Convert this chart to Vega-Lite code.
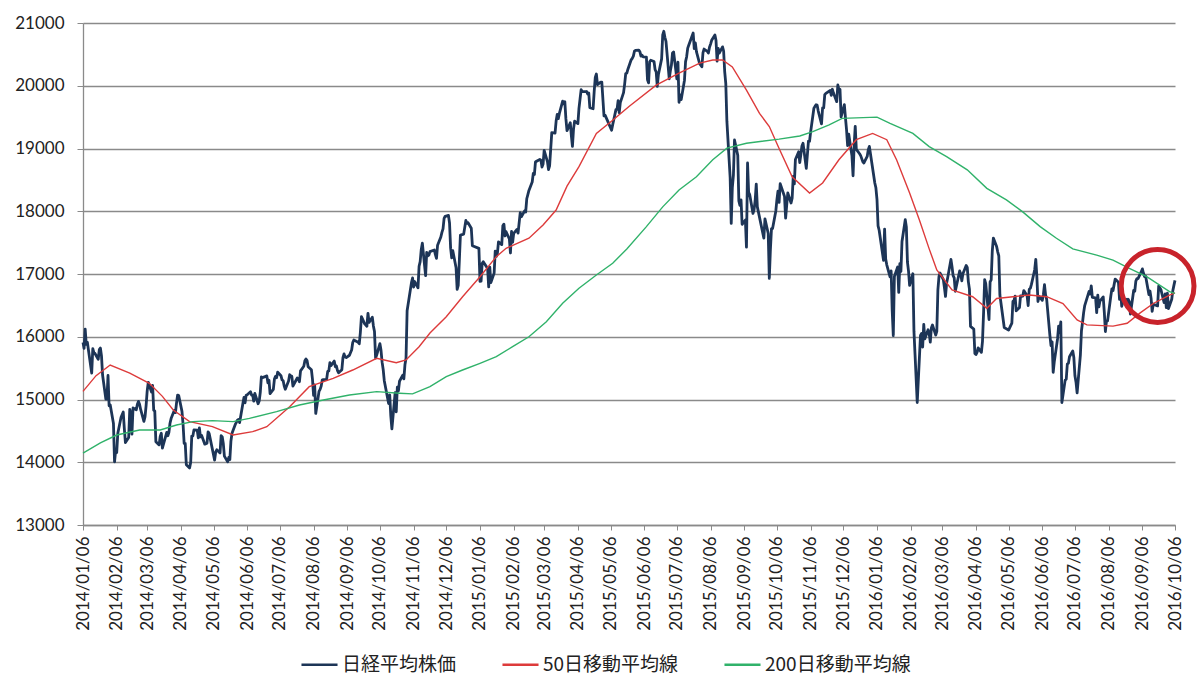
{
"$schema": "https://vega.github.io/schema/vega-lite/v6.json",
"autosize": "none",
"width": 1092,
"height": 502,
"padding": {"left": 83, "top": 23, "right": 25, "bottom": 174},
"background": "white",
"config": {"view": {"stroke": null}},
"datasets": {
"price": [
{"d":"2014-01-06","v":15908},{"d":"2014-01-07","v":15814},{"d":"2014-01-08","v":16121},{"d":"2014-01-09","v":15880},{"d":"2014-01-10","v":15912},{"d":"2014-01-14","v":15422},{"d":"2014-01-15","v":15809},{"d":"2014-01-16","v":15747},{"d":"2014-01-17","v":15734},{"d":"2014-01-20","v":15641},{"d":"2014-01-21","v":15795},{"d":"2014-01-22","v":15820},{"d":"2014-01-23","v":15695},{"d":"2014-01-24","v":15391},{"d":"2014-01-27","v":15006},{"d":"2014-01-28","v":15005},{"d":"2014-01-29","v":15383},{"d":"2014-01-30","v":14900},{"d":"2014-01-31","v":14915},
{"d":"2014-02-03","v":14619},{"d":"2014-02-04","v":14008},{"d":"2014-02-05","v":14180},{"d":"2014-02-06","v":14155},{"d":"2014-02-07","v":14462},{"d":"2014-02-10","v":14718},{"d":"2014-02-12","v":14800},{"d":"2014-02-13","v":14535},{"d":"2014-02-14","v":14313},{"d":"2014-02-17","v":14393},{"d":"2014-02-18","v":14843},{"d":"2014-02-19","v":14766},{"d":"2014-02-20","v":14449},{"d":"2014-02-21","v":14865},{"d":"2014-02-24","v":14837},{"d":"2014-02-25","v":14923},{"d":"2014-02-26","v":14970},{"d":"2014-02-27","v":14923},{"d":"2014-02-28","v":14841},
{"d":"2014-03-03","v":14652},{"d":"2014-03-04","v":14721},{"d":"2014-03-05","v":14897},{"d":"2014-03-06","v":15134},{"d":"2014-03-07","v":15274},{"d":"2014-03-10","v":15120},{"d":"2014-03-11","v":15224},{"d":"2014-03-12","v":14830},{"d":"2014-03-13","v":14815},{"d":"2014-03-14","v":14327},{"d":"2014-03-17","v":14277},{"d":"2014-03-18","v":14411},{"d":"2014-03-19","v":14462},{"d":"2014-03-20","v":14224},{"d":"2014-03-24","v":14475},{"d":"2014-03-25","v":14423},{"d":"2014-03-26","v":14477},{"d":"2014-03-27","v":14622},{"d":"2014-03-28","v":14696},{"d":"2014-03-31","v":14827},
{"d":"2014-04-01","v":14791},{"d":"2014-04-02","v":14946},{"d":"2014-04-03","v":15071},{"d":"2014-04-04","v":15063},{"d":"2014-04-07","v":14811},{"d":"2014-04-08","v":14606},{"d":"2014-04-09","v":14300},{"d":"2014-04-10","v":14299},{"d":"2014-04-11","v":13960},{"d":"2014-04-14","v":13910},{"d":"2014-04-15","v":13996},{"d":"2014-04-16","v":14417},{"d":"2014-04-17","v":14417},{"d":"2014-04-18","v":14516},{"d":"2014-04-21","v":14512},{"d":"2014-04-22","v":14388},{"d":"2014-04-23","v":14546},{"d":"2014-04-24","v":14404},{"d":"2014-04-25","v":14429},{"d":"2014-04-28","v":14288},{"d":"2014-04-30","v":14304},
{"d":"2014-05-01","v":14485},{"d":"2014-05-02","v":14457},{"d":"2014-05-07","v":14034},{"d":"2014-05-08","v":14163},{"d":"2014-05-09","v":14199},{"d":"2014-05-12","v":14149},{"d":"2014-05-13","v":14425},{"d":"2014-05-14","v":14405},{"d":"2014-05-15","v":14298},{"d":"2014-05-16","v":14097},{"d":"2014-05-19","v":14006},{"d":"2014-05-20","v":14075},{"d":"2014-05-21","v":14042},{"d":"2014-05-22","v":14337},{"d":"2014-05-23","v":14462},{"d":"2014-05-26","v":14602},{"d":"2014-05-27","v":14636},{"d":"2014-05-28","v":14670},{"d":"2014-05-29","v":14681},{"d":"2014-05-30","v":14632},
{"d":"2014-06-02","v":14935},{"d":"2014-06-03","v":15034},{"d":"2014-06-04","v":14948},{"d":"2014-06-05","v":15069},{"d":"2014-06-06","v":15077},{"d":"2014-06-09","v":15124},{"d":"2014-06-10","v":15069},{"d":"2014-06-11","v":15068},{"d":"2014-06-12","v":14973},{"d":"2014-06-13","v":15097},{"d":"2014-06-16","v":14933},{"d":"2014-06-17","v":14975},{"d":"2014-06-18","v":15115},{"d":"2014-06-19","v":15361},{"d":"2014-06-20","v":15349},{"d":"2014-06-23","v":15369},{"d":"2014-06-24","v":15376},{"d":"2014-06-25","v":15266},{"d":"2014-06-26","v":15308},{"d":"2014-06-27","v":15095},{"d":"2014-06-30","v":15162},
{"d":"2014-07-01","v":15326},{"d":"2014-07-02","v":15369},{"d":"2014-07-03","v":15348},{"d":"2014-07-04","v":15437},{"d":"2014-07-07","v":15379},{"d":"2014-07-08","v":15314},{"d":"2014-07-09","v":15302},{"d":"2014-07-10","v":15216},{"d":"2014-07-11","v":15164},{"d":"2014-07-14","v":15296},{"d":"2014-07-15","v":15395},{"d":"2014-07-16","v":15379},{"d":"2014-07-17","v":15370},{"d":"2014-07-18","v":15215},{"d":"2014-07-22","v":15343},{"d":"2014-07-23","v":15328},{"d":"2014-07-24","v":15284},{"d":"2014-07-25","v":15457},{"d":"2014-07-28","v":15529},{"d":"2014-07-29","v":15618},{"d":"2014-07-30","v":15646},{"d":"2014-07-31","v":15620},
{"d":"2014-08-01","v":15523},{"d":"2014-08-04","v":15474},{"d":"2014-08-05","v":15320},{"d":"2014-08-06","v":15066},{"d":"2014-08-07","v":15232},{"d":"2014-08-08","v":14778},{"d":"2014-08-11","v":15130},{"d":"2014-08-12","v":15161},{"d":"2014-08-13","v":15213},{"d":"2014-08-14","v":15314},{"d":"2014-08-15","v":15318},{"d":"2014-08-18","v":15322},{"d":"2014-08-19","v":15449},{"d":"2014-08-20","v":15454},{"d":"2014-08-21","v":15586},{"d":"2014-08-22","v":15539},{"d":"2014-08-25","v":15613},{"d":"2014-08-26","v":15521},{"d":"2014-08-27","v":15534},{"d":"2014-08-28","v":15459},{"d":"2014-08-29","v":15425},
{"d":"2014-09-01","v":15476},{"d":"2014-09-02","v":15668},{"d":"2014-09-03","v":15728},{"d":"2014-09-04","v":15676},{"d":"2014-09-05","v":15668},{"d":"2014-09-08","v":15705},{"d":"2014-09-09","v":15749},{"d":"2014-09-10","v":15788},{"d":"2014-09-11","v":15909},{"d":"2014-09-12","v":15948},{"d":"2014-09-16","v":15911},{"d":"2014-09-17","v":15888},{"d":"2014-09-18","v":16067},{"d":"2014-09-19","v":16321},{"d":"2014-09-22","v":16205},{"d":"2014-09-24","v":16167},{"d":"2014-09-25","v":16374},{"d":"2014-09-26","v":16229},{"d":"2014-09-29","v":16310},{"d":"2014-09-30","v":16173},
{"d":"2014-10-01","v":16082},{"d":"2014-10-02","v":15661},{"d":"2014-10-03","v":15708},{"d":"2014-10-06","v":15890},{"d":"2014-10-07","v":15784},{"d":"2014-10-08","v":15595},{"d":"2014-10-09","v":15478},{"d":"2014-10-10","v":15300},{"d":"2014-10-14","v":14936},{"d":"2014-10-15","v":15073},{"d":"2014-10-16","v":14738},{"d":"2014-10-17","v":14532},{"d":"2014-10-20","v":15111},{"d":"2014-10-21","v":14804},{"d":"2014-10-22","v":15195},{"d":"2014-10-23","v":15138},{"d":"2014-10-24","v":15291},{"d":"2014-10-27","v":15388},{"d":"2014-10-28","v":15329},{"d":"2014-10-29","v":15553},{"d":"2014-10-30","v":15658},{"d":"2014-10-31","v":16413},
{"d":"2014-11-04","v":16862},{"d":"2014-11-05","v":16937},{"d":"2014-11-06","v":16792},{"d":"2014-11-07","v":16880},{"d":"2014-11-10","v":16780},{"d":"2014-11-11","v":17124},{"d":"2014-11-12","v":17197},{"d":"2014-11-13","v":17392},{"d":"2014-11-14","v":17490},{"d":"2014-11-17","v":16973},{"d":"2014-11-18","v":17344},{"d":"2014-11-19","v":17288},{"d":"2014-11-20","v":17300},{"d":"2014-11-21","v":17357},{"d":"2014-11-25","v":17383},{"d":"2014-11-26","v":17308},{"d":"2014-11-27","v":17248},{"d":"2014-11-28","v":17459},
{"d":"2014-12-01","v":17590},{"d":"2014-12-02","v":17663},{"d":"2014-12-03","v":17720},{"d":"2014-12-04","v":17887},{"d":"2014-12-05","v":17920},{"d":"2014-12-08","v":17935},{"d":"2014-12-09","v":17813},{"d":"2014-12-10","v":17412},{"d":"2014-12-11","v":17257},{"d":"2014-12-12","v":17371},{"d":"2014-12-15","v":17099},{"d":"2014-12-16","v":16755},{"d":"2014-12-17","v":16819},{"d":"2014-12-18","v":17210},{"d":"2014-12-19","v":17621},{"d":"2014-12-22","v":17635},{"d":"2014-12-24","v":17854},{"d":"2014-12-25","v":17808},{"d":"2014-12-26","v":17818},{"d":"2014-12-29","v":17729},{"d":"2014-12-30","v":17451},
{"d":"2015-01-05","v":17408},{"d":"2015-01-06","v":16883},{"d":"2015-01-07","v":16885},{"d":"2015-01-08","v":17167},{"d":"2015-01-09","v":17197},{"d":"2015-01-13","v":17087},{"d":"2015-01-14","v":16795},{"d":"2015-01-15","v":17108},{"d":"2015-01-16","v":16864},{"d":"2015-01-19","v":17014},{"d":"2015-01-20","v":17366},{"d":"2015-01-21","v":17280},{"d":"2015-01-22","v":17329},{"d":"2015-01-23","v":17511},{"d":"2015-01-26","v":17468},{"d":"2015-01-27","v":17768},{"d":"2015-01-28","v":17795},{"d":"2015-01-29","v":17606},{"d":"2015-01-30","v":17674},
{"d":"2015-02-02","v":17558},{"d":"2015-02-03","v":17335},{"d":"2015-02-04","v":17678},{"d":"2015-02-05","v":17504},{"d":"2015-02-06","v":17648},{"d":"2015-02-09","v":17711},{"d":"2015-02-10","v":17652},{"d":"2015-02-12","v":17979},{"d":"2015-02-13","v":17913},{"d":"2015-02-16","v":18004},{"d":"2015-02-17","v":17987},{"d":"2015-02-18","v":18199},{"d":"2015-02-19","v":18264},{"d":"2015-02-20","v":18332},{"d":"2015-02-23","v":18466},{"d":"2015-02-24","v":18603},{"d":"2015-02-25","v":18585},{"d":"2015-02-26","v":18785},{"d":"2015-02-27","v":18797},
{"d":"2015-03-02","v":18826},{"d":"2015-03-03","v":18815},{"d":"2015-03-04","v":18703},{"d":"2015-03-05","v":18751},{"d":"2015-03-06","v":18971},{"d":"2015-03-09","v":18790},{"d":"2015-03-10","v":18665},{"d":"2015-03-11","v":18723},{"d":"2015-03-12","v":18991},{"d":"2015-03-13","v":19254},{"d":"2015-03-16","v":19246},{"d":"2015-03-17","v":19437},{"d":"2015-03-18","v":19544},{"d":"2015-03-19","v":19476},{"d":"2015-03-20","v":19560},{"d":"2015-03-23","v":19754},{"d":"2015-03-24","v":19713},{"d":"2015-03-25","v":19746},{"d":"2015-03-26","v":19471},{"d":"2015-03-27","v":19285},{"d":"2015-03-30","v":19411},{"d":"2015-03-31","v":19206},
{"d":"2015-04-01","v":19034},{"d":"2015-04-02","v":19312},{"d":"2015-04-03","v":19435},{"d":"2015-04-06","v":19397},{"d":"2015-04-07","v":19640},{"d":"2015-04-08","v":19789},{"d":"2015-04-09","v":19937},{"d":"2015-04-10","v":19907},{"d":"2015-04-13","v":19905},{"d":"2015-04-14","v":19908},{"d":"2015-04-15","v":19869},{"d":"2015-04-16","v":19885},{"d":"2015-04-17","v":19652},{"d":"2015-04-20","v":19634},{"d":"2015-04-21","v":19909},{"d":"2015-04-22","v":20133},{"d":"2015-04-23","v":20187},{"d":"2015-04-24","v":20020},{"d":"2015-04-27","v":20058},{"d":"2015-04-28","v":20058},{"d":"2015-04-30","v":19520},
{"d":"2015-05-01","v":19531},{"d":"2015-05-07","v":19292},{"d":"2015-05-08","v":19379},{"d":"2015-05-11","v":19620},{"d":"2015-05-12","v":19624},{"d":"2015-05-13","v":19764},{"d":"2015-05-14","v":19570},{"d":"2015-05-15","v":19732},{"d":"2015-05-18","v":19890},{"d":"2015-05-19","v":20026},{"d":"2015-05-20","v":20196},{"d":"2015-05-21","v":20202},{"d":"2015-05-22","v":20264},{"d":"2015-05-25","v":20413},{"d":"2015-05-26","v":20437},{"d":"2015-05-27","v":20472},{"d":"2015-05-28","v":20551},{"d":"2015-05-29","v":20563},
{"d":"2015-06-01","v":20569},{"d":"2015-06-02","v":20543},{"d":"2015-06-03","v":20473},{"d":"2015-06-04","v":20488},{"d":"2015-06-05","v":20460},{"d":"2015-06-08","v":20457},{"d":"2015-06-09","v":20096},{"d":"2015-06-10","v":20046},{"d":"2015-06-11","v":20382},{"d":"2015-06-12","v":20407},{"d":"2015-06-15","v":20387},{"d":"2015-06-16","v":20257},{"d":"2015-06-17","v":20219},{"d":"2015-06-18","v":19990},{"d":"2015-06-19","v":20174},{"d":"2015-06-22","v":20428},{"d":"2015-06-23","v":20809},{"d":"2015-06-24","v":20868},{"d":"2015-06-25","v":20771},{"d":"2015-06-26","v":20706},{"d":"2015-06-29","v":20109},{"d":"2015-06-30","v":20235},
{"d":"2015-07-01","v":20329},{"d":"2015-07-02","v":20522},{"d":"2015-07-03","v":20539},{"d":"2015-07-06","v":20112},{"d":"2015-07-07","v":20376},{"d":"2015-07-08","v":19737},{"d":"2015-07-09","v":19855},{"d":"2015-07-10","v":19779},{"d":"2015-07-13","v":20089},{"d":"2015-07-14","v":20385},{"d":"2015-07-15","v":20463},{"d":"2015-07-16","v":20600},{"d":"2015-07-17","v":20650},{"d":"2015-07-21","v":20841},{"d":"2015-07-22","v":20593},{"d":"2015-07-23","v":20683},{"d":"2015-07-24","v":20544},{"d":"2015-07-27","v":20350},{"d":"2015-07-28","v":20328},{"d":"2015-07-29","v":20302},{"d":"2015-07-30","v":20522},{"d":"2015-07-31","v":20585},
{"d":"2015-08-03","v":20548},{"d":"2015-08-04","v":20520},{"d":"2015-08-05","v":20614},{"d":"2015-08-06","v":20664},{"d":"2015-08-07","v":20724},{"d":"2015-08-10","v":20808},{"d":"2015-08-11","v":20720},{"d":"2015-08-12","v":20392},{"d":"2015-08-13","v":20595},{"d":"2015-08-14","v":20519},{"d":"2015-08-17","v":20620},{"d":"2015-08-18","v":20554},{"d":"2015-08-19","v":20222},{"d":"2015-08-20","v":20033},{"d":"2015-08-21","v":19435},{"d":"2015-08-24","v":18540},{"d":"2015-08-25","v":17806},{"d":"2015-08-26","v":18376},{"d":"2015-08-27","v":18574},{"d":"2015-08-28","v":19136},{"d":"2015-08-31","v":18890},
{"d":"2015-09-01","v":18165},{"d":"2015-09-02","v":18095},{"d":"2015-09-03","v":18182},{"d":"2015-09-04","v":17792},{"d":"2015-09-07","v":17860},{"d":"2015-09-08","v":17427},{"d":"2015-09-09","v":18770},{"d":"2015-09-10","v":18299},{"d":"2015-09-11","v":18264},{"d":"2015-09-14","v":17965},{"d":"2015-09-15","v":18026},{"d":"2015-09-16","v":18171},{"d":"2015-09-17","v":18432},{"d":"2015-09-18","v":18070},{"d":"2015-09-24","v":17571},{"d":"2015-09-25","v":17880},{"d":"2015-09-28","v":17645},{"d":"2015-09-29","v":16930},{"d":"2015-09-30","v":17388},
{"d":"2015-10-01","v":17722},{"d":"2015-10-02","v":17725},{"d":"2015-10-05","v":18005},{"d":"2015-10-06","v":18186},{"d":"2015-10-07","v":18322},{"d":"2015-10-08","v":18141},{"d":"2015-10-09","v":18438},{"d":"2015-10-13","v":18234},{"d":"2015-10-14","v":17891},{"d":"2015-10-15","v":18096},{"d":"2015-10-16","v":18291},{"d":"2015-10-19","v":18131},{"d":"2015-10-20","v":18207},{"d":"2015-10-21","v":18554},{"d":"2015-10-22","v":18435},{"d":"2015-10-23","v":18825},{"d":"2015-10-26","v":18947},{"d":"2015-10-27","v":18777},{"d":"2015-10-28","v":18903},{"d":"2015-10-29","v":19041},{"d":"2015-10-30","v":19083},
{"d":"2015-11-02","v":18683},{"d":"2015-11-04","v":19117},{"d":"2015-11-05","v":19116},{"d":"2015-11-06","v":19265},{"d":"2015-11-09","v":19642},{"d":"2015-11-10","v":19671},{"d":"2015-11-11","v":19697},{"d":"2015-11-12","v":19691},{"d":"2015-11-13","v":19597},{"d":"2015-11-16","v":19393},{"d":"2015-11-17","v":19649},{"d":"2015-11-18","v":19649},{"d":"2015-11-19","v":19859},{"d":"2015-11-20","v":19879},{"d":"2015-11-24","v":19924},{"d":"2015-11-25","v":19847},{"d":"2015-11-26","v":19944},{"d":"2015-11-27","v":19883},{"d":"2015-11-30","v":19747},
{"d":"2015-12-01","v":20012},{"d":"2015-12-02","v":19938},{"d":"2015-12-03","v":19940},{"d":"2015-12-04","v":19504},{"d":"2015-12-07","v":19698},{"d":"2015-12-08","v":19492},{"d":"2015-12-09","v":19301},{"d":"2015-12-10","v":19047},{"d":"2015-12-11","v":19230},{"d":"2015-12-14","v":18883},{"d":"2015-12-15","v":18565},{"d":"2015-12-16","v":19049},{"d":"2015-12-17","v":19353},{"d":"2015-12-18","v":18986},{"d":"2015-12-21","v":18916},{"d":"2015-12-22","v":18886},{"d":"2015-12-24","v":18789},{"d":"2015-12-25","v":18769},{"d":"2015-12-28","v":18873},{"d":"2015-12-29","v":18982},{"d":"2015-12-30","v":19033},
{"d":"2016-01-04","v":18450},{"d":"2016-01-05","v":18374},{"d":"2016-01-06","v":18191},{"d":"2016-01-07","v":17767},{"d":"2016-01-08","v":17697},{"d":"2016-01-12","v":17218},{"d":"2016-01-13","v":17715},{"d":"2016-01-14","v":17240},{"d":"2016-01-15","v":17147},{"d":"2016-01-18","v":16955},{"d":"2016-01-19","v":17048},{"d":"2016-01-20","v":16416},{"d":"2016-01-21","v":16017},{"d":"2016-01-22","v":16959},{"d":"2016-01-25","v":17111},{"d":"2016-01-26","v":16708},{"d":"2016-01-27","v":17163},{"d":"2016-01-28","v":17041},{"d":"2016-01-29","v":17518},
{"d":"2016-02-01","v":17865},{"d":"2016-02-02","v":17750},{"d":"2016-02-03","v":17191},{"d":"2016-02-04","v":17045},{"d":"2016-02-05","v":16819},{"d":"2016-02-08","v":17004},{"d":"2016-02-09","v":16085},{"d":"2016-02-10","v":15713},{"d":"2016-02-12","v":14952},{"d":"2016-02-15","v":16022},{"d":"2016-02-16","v":16054},{"d":"2016-02-17","v":15836},{"d":"2016-02-18","v":16196},{"d":"2016-02-19","v":15967},{"d":"2016-02-22","v":16111},{"d":"2016-02-23","v":16052},{"d":"2016-02-24","v":15916},{"d":"2016-02-25","v":16140},{"d":"2016-02-26","v":16188},{"d":"2016-02-29","v":16027},
{"d":"2016-03-01","v":16085},{"d":"2016-03-02","v":16747},{"d":"2016-03-03","v":16960},{"d":"2016-03-04","v":17015},{"d":"2016-03-07","v":16911},{"d":"2016-03-08","v":16784},{"d":"2016-03-09","v":16642},{"d":"2016-03-10","v":16852},{"d":"2016-03-11","v":16939},{"d":"2016-03-14","v":17233},{"d":"2016-03-15","v":17118},{"d":"2016-03-16","v":16975},{"d":"2016-03-17","v":16937},{"d":"2016-03-18","v":16725},{"d":"2016-03-22","v":17049},{"d":"2016-03-23","v":17001},{"d":"2016-03-24","v":16892},{"d":"2016-03-25","v":17003},{"d":"2016-03-28","v":17135},{"d":"2016-03-29","v":17104},{"d":"2016-03-30","v":16879},{"d":"2016-03-31","v":16759},
{"d":"2016-04-01","v":16164},{"d":"2016-04-04","v":16123},{"d":"2016-04-05","v":15733},{"d":"2016-04-06","v":15716},{"d":"2016-04-07","v":15750},{"d":"2016-04-08","v":15822},{"d":"2016-04-11","v":15751},{"d":"2016-04-12","v":15928},{"d":"2016-04-13","v":16381},{"d":"2016-04-14","v":16911},{"d":"2016-04-15","v":16848},{"d":"2016-04-18","v":16275},{"d":"2016-04-19","v":16874},{"d":"2016-04-20","v":16906},{"d":"2016-04-21","v":17364},{"d":"2016-04-22","v":17573},{"d":"2016-04-25","v":17439},{"d":"2016-04-26","v":17354},{"d":"2016-04-27","v":17290},{"d":"2016-04-28","v":16666},
{"d":"2016-05-02","v":16147},{"d":"2016-05-06","v":16106},{"d":"2016-05-09","v":16216},{"d":"2016-05-10","v":16565},{"d":"2016-05-11","v":16579},{"d":"2016-05-12","v":16646},{"d":"2016-05-13","v":16412},{"d":"2016-05-16","v":16466},{"d":"2016-05-17","v":16652},{"d":"2016-05-18","v":16644},{"d":"2016-05-19","v":16646},{"d":"2016-05-20","v":16736},{"d":"2016-05-23","v":16654},{"d":"2016-05-24","v":16498},{"d":"2016-05-25","v":16757},{"d":"2016-05-26","v":16772},{"d":"2016-05-27","v":16834},{"d":"2016-05-30","v":17068},{"d":"2016-05-31","v":17234},
{"d":"2016-06-01","v":16955},{"d":"2016-06-02","v":16562},{"d":"2016-06-03","v":16642},{"d":"2016-06-06","v":16580},{"d":"2016-06-07","v":16675},{"d":"2016-06-08","v":16830},{"d":"2016-06-09","v":16668},{"d":"2016-06-10","v":16601},{"d":"2016-06-13","v":16019},{"d":"2016-06-14","v":15859},{"d":"2016-06-15","v":15919},{"d":"2016-06-16","v":15434},{"d":"2016-06-17","v":15599},{"d":"2016-06-20","v":15965},{"d":"2016-06-21","v":16169},{"d":"2016-06-22","v":16065},{"d":"2016-06-23","v":16238},{"d":"2016-06-24","v":14952},{"d":"2016-06-27","v":15309},{"d":"2016-06-28","v":15323},{"d":"2016-06-29","v":15566},{"d":"2016-06-30","v":15576},
{"d":"2016-07-01","v":15682},{"d":"2016-07-04","v":15775},{"d":"2016-07-05","v":15669},{"d":"2016-07-06","v":15378},{"d":"2016-07-07","v":15276},{"d":"2016-07-08","v":15106},{"d":"2016-07-11","v":15708},{"d":"2016-07-12","v":16095},{"d":"2016-07-13","v":16231},{"d":"2016-07-14","v":16385},{"d":"2016-07-15","v":16497},{"d":"2016-07-19","v":16723},{"d":"2016-07-20","v":16681},{"d":"2016-07-21","v":16810},{"d":"2016-07-22","v":16627},{"d":"2016-07-25","v":16620},{"d":"2016-07-26","v":16383},{"d":"2016-07-27","v":16664},{"d":"2016-07-28","v":16476},{"d":"2016-07-29","v":16569},
{"d":"2016-08-01","v":16635},{"d":"2016-08-02","v":16391},{"d":"2016-08-03","v":16083},{"d":"2016-08-04","v":16254},{"d":"2016-08-05","v":16254},{"d":"2016-08-08","v":16650},{"d":"2016-08-09","v":16764},{"d":"2016-08-10","v":16735},{"d":"2016-08-12","v":16919},{"d":"2016-08-15","v":16869},{"d":"2016-08-16","v":16596},{"d":"2016-08-17","v":16745},{"d":"2016-08-18","v":16486},{"d":"2016-08-19","v":16545},{"d":"2016-08-22","v":16598},{"d":"2016-08-23","v":16497},{"d":"2016-08-24","v":16597},{"d":"2016-08-25","v":16556},{"d":"2016-08-26","v":16360},{"d":"2016-08-29","v":16737},{"d":"2016-08-30","v":16725},{"d":"2016-08-31","v":16887},
{"d":"2016-09-01","v":16926},{"d":"2016-09-02","v":16925},{"d":"2016-09-05","v":17037},{"d":"2016-09-06","v":17081},{"d":"2016-09-07","v":17012},{"d":"2016-09-08","v":16958},{"d":"2016-09-09","v":16965},{"d":"2016-09-12","v":16672},{"d":"2016-09-13","v":16729},{"d":"2016-09-14","v":16614},{"d":"2016-09-15","v":16405},{"d":"2016-09-16","v":16519},{"d":"2016-09-20","v":16492},{"d":"2016-09-21","v":16807},{"d":"2016-09-23","v":16754},{"d":"2016-09-26","v":16544},{"d":"2016-09-27","v":16683},{"d":"2016-09-28","v":16465},{"d":"2016-09-29","v":16693},{"d":"2016-09-30","v":16449},
{"d":"2016-10-03","v":16598},{"d":"2016-10-04","v":16735},{"d":"2016-10-05","v":16819},{"d":"2016-10-06","v":16899}
],
"ma50": [
{"d":"2014-01-06","v":15130},{"d":"2014-01-18","v":15380},{"d":"2014-01-31","v":15550},{"d":"2014-02-18","v":15420},{"d":"2014-03-08","v":15258},{"d":"2014-03-20","v":15050},{"d":"2014-03-30","v":14833},{"d":"2014-04-14","v":14647},{"d":"2014-05-05","v":14567},{"d":"2014-05-24","v":14434},{"d":"2014-06-11","v":14487},{"d":"2014-06-24","v":14567},{"d":"2014-07-15","v":14886},{"d":"2014-08-02","v":15205},{"d":"2014-08-24","v":15338},{"d":"2014-09-11","v":15470},{"d":"2014-10-03","v":15657},{"d":"2014-10-21","v":15587},{"d":"2014-10-30","v":15630},{"d":"2014-11-11","v":15842},{"d":"2014-11-21","v":16060},{"d":"2014-12-06","v":16320},{"d":"2014-12-21","v":16638},{"d":"2015-01-06","v":16957},{"d":"2015-01-21","v":17276},{"d":"2015-01-30","v":17410},{"d":"2015-02-20","v":17570},{"d":"2015-03-05","v":17780},{"d":"2015-03-17","v":18020},{"d":"2015-03-27","v":18400},{"d":"2015-04-07","v":18710},{"d":"2015-04-23","v":19240},{"d":"2015-05-08","v":19450},{"d":"2015-05-23","v":19670},{"d":"2015-06-17","v":20010},{"d":"2015-07-08","v":20200},{"d":"2015-07-27","v":20360},{"d":"2015-08-08","v":20410},{"d":"2015-08-17","v":20410},{"d":"2015-08-26","v":20300},{"d":"2015-09-08","v":19930},{"d":"2015-09-20","v":19560},{"d":"2015-09-29","v":19350},{"d":"2015-10-08","v":19000},{"d":"2015-10-20","v":18550},{"d":"2015-11-05","v":18290},{"d":"2015-11-17","v":18450},{"d":"2015-12-02","v":18820},{"d":"2015-12-18","v":19140},{"d":"2016-01-02","v":19240},{"d":"2016-01-15","v":19140},{"d":"2016-01-24","v":18820},{"d":"2016-02-05","v":18290},{"d":"2016-02-14","v":17860},{"d":"2016-02-23","v":17400},{"d":"2016-03-01","v":17065},{"d":"2016-03-15","v":16745},{"d":"2016-04-03","v":16638},{"d":"2016-04-16","v":16455},{"d":"2016-04-25","v":16610},{"d":"2016-05-10","v":16638},{"d":"2016-05-25","v":16665},{"d":"2016-06-10","v":16638},{"d":"2016-06-25","v":16530},{"d":"2016-07-08","v":16267},{"d":"2016-07-17","v":16190},{"d":"2016-08-10","v":16170},{"d":"2016-08-23","v":16215},{"d":"2016-09-04","v":16380},{"d":"2016-09-16","v":16530},{"d":"2016-10-01","v":16665},{"d":"2016-10-06","v":16700}
],
"ma200": [
{"d":"2014-01-06","v":14147},{"d":"2014-01-22","v":14307},{"d":"2014-02-06","v":14434},{"d":"2014-02-27","v":14514},{"d":"2014-03-18","v":14514},{"d":"2014-04-02","v":14594},{"d":"2014-04-17","v":14647},{"d":"2014-05-05","v":14663},{"d":"2014-05-24","v":14647},{"d":"2014-06-08","v":14700},{"d":"2014-07-03","v":14806},{"d":"2014-07-24","v":14912},{"d":"2014-08-15","v":14992},{"d":"2014-09-08","v":15072},{"d":"2014-10-03","v":15125},{"d":"2014-10-24","v":15100},{"d":"2014-11-05","v":15090},{"d":"2014-11-21","v":15205},{"d":"2014-12-06","v":15364},{"d":"2014-12-21","v":15470},{"d":"2015-01-06","v":15577},{"d":"2015-01-21","v":15682},{"d":"2015-02-05","v":15842},{"d":"2015-02-20","v":16000},{"d":"2015-03-08","v":16240},{"d":"2015-03-23","v":16533},{"d":"2015-04-07","v":16772},{"d":"2015-04-23","v":16984},{"d":"2015-05-08","v":17170},{"d":"2015-05-21","v":17400},{"d":"2015-06-08","v":17755},{"d":"2015-06-23","v":18070},{"d":"2015-07-08","v":18340},{"d":"2015-07-24","v":18550},{"d":"2015-08-08","v":18820},{"d":"2015-08-21","v":19005},{"d":"2015-09-08","v":19083},{"d":"2015-10-08","v":19150},{"d":"2015-10-27","v":19200},{"d":"2015-11-08","v":19270},{"d":"2015-11-23","v":19375},{"d":"2015-12-05","v":19480},{"d":"2016-01-06","v":19500},{"d":"2016-01-18","v":19400},{"d":"2016-02-08","v":19240},{"d":"2016-02-23","v":19030},{"d":"2016-03-10","v":18870},{"d":"2016-03-29","v":18660},{"d":"2016-04-16","v":18365},{"d":"2016-05-04","v":18180},{"d":"2016-05-19","v":17990},{"d":"2016-06-04","v":17755},{"d":"2016-06-19","v":17570},{"d":"2016-07-04","v":17400},{"d":"2016-07-26","v":17300},{"d":"2016-08-10","v":17220},{"d":"2016-08-25","v":17090},{"d":"2016-09-10","v":16957},{"d":"2016-10-01","v":16718},{"d":"2016-10-06","v":16690}
],
"mark": [{"d":"2016-09-20","v":16809}]
},
"encoding": {
"x": {"field": "d", "type": "temporal",
 "scale": {"type": "utc", "domain": [{"year":2014,"month":1,"date":6,"utc":true},{"year":2016,"month":10,"date":6,"utc":true}]},
 "axis": {"title": null, "grid": false, "format": "%Y/%m/%d", "labelAngle": -90, "labelFont": "Lato", "labelFontSize": 17, "labelColor": "#222222", "labelPadding": 6, "tickSize": 5, "tickColor": "#8a8a8a", "domainColor": "#8a8a8a", "domainWidth": 1.3, "labelOverlap": false, "labelFlush": false,
  "values": [
   {"year":2014,"month":1,"date":6,"utc":true},{"year":2014,"month":2,"date":6,"utc":true},{"year":2014,"month":3,"date":6,"utc":true},{"year":2014,"month":4,"date":6,"utc":true},{"year":2014,"month":5,"date":6,"utc":true},{"year":2014,"month":6,"date":6,"utc":true},{"year":2014,"month":7,"date":6,"utc":true},{"year":2014,"month":8,"date":6,"utc":true},{"year":2014,"month":9,"date":6,"utc":true},{"year":2014,"month":10,"date":6,"utc":true},{"year":2014,"month":11,"date":6,"utc":true},{"year":2014,"month":12,"date":6,"utc":true},
   {"year":2015,"month":1,"date":6,"utc":true},{"year":2015,"month":2,"date":6,"utc":true},{"year":2015,"month":3,"date":6,"utc":true},{"year":2015,"month":4,"date":6,"utc":true},{"year":2015,"month":5,"date":6,"utc":true},{"year":2015,"month":6,"date":6,"utc":true},{"year":2015,"month":7,"date":6,"utc":true},{"year":2015,"month":8,"date":6,"utc":true},{"year":2015,"month":9,"date":6,"utc":true},{"year":2015,"month":10,"date":6,"utc":true},{"year":2015,"month":11,"date":6,"utc":true},{"year":2015,"month":12,"date":6,"utc":true},
   {"year":2016,"month":1,"date":6,"utc":true},{"year":2016,"month":2,"date":6,"utc":true},{"year":2016,"month":3,"date":6,"utc":true},{"year":2016,"month":4,"date":6,"utc":true},{"year":2016,"month":5,"date":6,"utc":true},{"year":2016,"month":6,"date":6,"utc":true},{"year":2016,"month":7,"date":6,"utc":true},{"year":2016,"month":8,"date":6,"utc":true},{"year":2016,"month":9,"date":6,"utc":true},{"year":2016,"month":10,"date":6,"utc":true}
  ]}},
"y": {"field": "v", "type": "quantitative",
 "scale": {"domain": [13000, 21000], "nice": false, "zero": false},
 "axis": {"title": null, "values": [13000,14000,15000,16000,17000,18000,19000,20000,21000], "format": "d", "grid": true, "gridColor": "#8a8a8a", "gridWidth": 1.3, "domainColor": "#8a8a8a", "domainWidth": 1.3, "tickColor": "#8a8a8a", "tickSize": 6, "labelPadding": 13, "labelFont": "Lato", "labelFontSize": 17, "labelColor": "#222222"}}
},
"layer": [
{"data": {"name": "price"}, "mark": {"type": "line", "strokeWidth": 2.8, "strokeJoin": "round"},
 "encoding": {"color": {"datum": "日経平均株価", "type": "nominal",
   "scale": {"domain": ["日経平均株価", "50日移動平均線", "200日移動平均線"], "range": ["#1d3557", "#dd3b3b", "#30b26a"]},
   "legend": {"title": null, "orient": "none", "legendX": 217, "legendY": 622, "direction": "horizontal", "symbolType": "stroke", "symbolSize": 1300, "symbolStrokeWidth": 2.5, "labelFont": "Noto Sans CJK JP", "labelFontSize": 19, "labelColor": "#222222", "labelOffset": 3, "columnPadding": 40}}}},
{"data": {"name": "ma50"}, "mark": {"type": "line", "strokeWidth": 1.4},
 "encoding": {"color": {"datum": "50日移動平均線", "type": "nominal"}}},
{"data": {"name": "ma200"}, "mark": {"type": "line", "strokeWidth": 1.4},
 "encoding": {"color": {"datum": "200日移動平均線", "type": "nominal"}}},
{"data": {"name": "mark"}, "mark": {"type": "point", "shape": "circle", "filled": false, "stroke": "#c8232b", "strokeWidth": 5, "size": 5300, "opacity": 1}}
]
}
